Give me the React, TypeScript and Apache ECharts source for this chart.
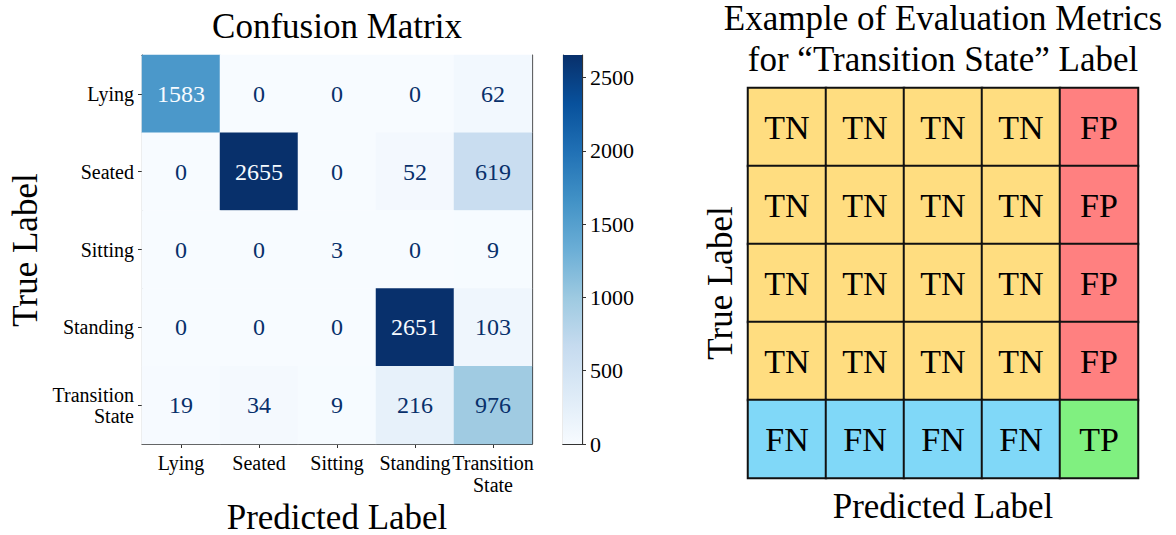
import React, { useEffect, useRef } from "react";
import * as echarts from "echarts";

const classLabels = ["Lying", "Seated", "Sitting", "Standing", "Transition\nState"];
const confusion = [
  [1583, 0, 0, 0, 62],
  [0, 2655, 0, 52, 619],
  [0, 0, 3, 0, 9],
  [0, 0, 0, 2651, 103],
  [19, 34, 9, 216, 976],
];
const colorbarMin = 0;
const colorbarMax = 2655;
const colorbarStep = 500;
const bluesStops = ["#f7fbff", "#deebf7", "#c6dbef", "#9ecae1", "#6baed6", "#4292c6", "#2171b5", "#08519c", "#08306b"];

const outcomeGrid = [
  ["TN", "TN", "TN", "TN", "FP"],
  ["TN", "TN", "TN", "TN", "FP"],
  ["TN", "TN", "TN", "TN", "FP"],
  ["TN", "TN", "TN", "TN", "FP"],
  ["FN", "FN", "FN", "FN", "TP"],
];
const outcomeCodes = ["TN", "FP", "FN", "TP"];
const outcomeColors = ["#FFDD80", "#FF8080", "#80D8F8", "#80F080"];
const outcomeCols = ["c1", "c2", "c3", "c4", "c5"];
const outcomeRows = ["r1", "r2", "r3", "r4", "r5"];

const leftTitle = "Confusion Matrix";
const rightTitle = ["Example of Evaluation Metrics", "for \u201cTransition State\u201d Label"];
const xName = "Predicted Label";
const yName = "True Label";

const FONT = "Liberation Serif";

export default function App() {
  const ref = useRef<HTMLDivElement>(null);
  useEffect(() => {
    if (!ref.current) return;
    const chart = echarts.init(ref.current, undefined, { renderer: "svg" });
    const threshold = (colorbarMax + colorbarMin) / 2;
    const cmData: any[] = [];
    confusion.forEach((row, r) =>
      row.forEach((v, c) => {
        cmData.push({
          value: [c, r, v],
          label: { color: v > threshold ? "#f7fbff" : "#08306b", fontFamily: FONT, fontSize: 24 },
        });
      })
    );
    const outData: any[] = [];
    outcomeGrid.forEach((row, r) =>
      row.forEach((code, c) => {
        outData.push({
          value: [c, r, outcomeCodes.indexOf(code)],
          label: { formatter: code, fontFamily: FONT, fontSize: 34, color: "#000" },
        });
      })
    );
    const spine = { show: true, lineStyle: { color: "#333", width: 1.2 } };
    const blackSpine = { show: true, lineStyle: { color: "#111", width: 2 } };
    const hidden = { show: false };

    const text = (t: string, x: number, y: number, size: number, rot = 0) => ({
      type: "text",
      x,
      y,
      rotation: rot,
      style: {
        text: t,
        x: 0,
        y: 0,
        fill: "#000",
        font: `${size}px "${FONT}", serif`,
        textAlign: "center",
        textVerticalAlign: "middle",
      },
      z: 100,
    });

    chart.setOption({
      animation: false,
      backgroundColor: "#fff",
      textStyle: { fontFamily: FONT },
      grid: [
        { left: 142, top: 55, width: 390, height: 389 },
        { left: 563, top: 55, width: 19, height: 389 },
        { left: 748, top: 88, width: 390, height: 390 },
      ],
      xAxis: [
        {
          gridIndex: 0,
          type: "category",
          data: classLabels,
          position: "bottom",
          axisLine: spine,
          axisTick: { show: true, alignWithLabel: true, length: 4, lineStyle: { color: "#333" } },
          axisLabel: { interval: 0, fontSize: 20, color: "#000", margin: 8, lineHeight: 22, fontFamily: FONT },
          splitLine: hidden,
        },
        { gridIndex: 0, type: "category", data: classLabels, position: "top", axisLine: spine, axisTick: hidden, axisLabel: hidden },
        { gridIndex: 1, type: "category", data: ["cb"], position: "bottom", axisLine: spine, axisTick: hidden, axisLabel: hidden },
        { gridIndex: 1, type: "category", data: ["cb"], position: "top", axisLine: spine, axisTick: hidden, axisLabel: hidden },
        { gridIndex: 2, type: "category", data: outcomeCols, position: "bottom", axisLine: blackSpine, axisTick: hidden, axisLabel: hidden },
        { gridIndex: 2, type: "category", data: outcomeCols, position: "top", axisLine: blackSpine, axisTick: hidden, axisLabel: hidden },
      ],
      yAxis: [
        {
          gridIndex: 0,
          type: "category",
          data: classLabels,
          inverse: true,
          position: "left",
          axisLine: spine,
          axisTick: { show: true, alignWithLabel: true, length: 4, lineStyle: { color: "#333" } },
          axisLabel: { interval: 0, fontSize: 20, color: "#000", margin: 8, lineHeight: 21, align: "right", fontFamily: FONT },
          splitLine: hidden,
        },
        { gridIndex: 0, type: "category", data: classLabels, inverse: true, position: "right", axisLine: spine, axisTick: hidden, axisLabel: hidden },
        {
          gridIndex: 1,
          type: "value",
          min: colorbarMin,
          max: colorbarMax,
          interval: colorbarStep,
          position: "right",
          axisLine: spine,
          axisTick: { show: true, length: 4, lineStyle: { color: "#333" } },
          axisLabel: {
            fontSize: 22,
            color: "#000",
            margin: 8,
            fontFamily: FONT,
            showMaxLabel: false,
            formatter: (v: number) => String(v),
          },
          splitLine: hidden,
        },
        { gridIndex: 1, type: "value", min: colorbarMin, max: colorbarMax, position: "left", axisLine: spine, axisTick: hidden, axisLabel: hidden, splitLine: hidden },
        { gridIndex: 2, type: "category", data: outcomeRows, inverse: true, position: "left", axisLine: blackSpine, axisTick: hidden, axisLabel: hidden },
        { gridIndex: 2, type: "category", data: outcomeRows, inverse: true, position: "right", axisLine: blackSpine, axisTick: hidden, axisLabel: hidden },
      ],
      visualMap: [
        {
          show: false,
          type: "continuous",
          seriesIndex: 0,
          dimension: 2,
          min: colorbarMin,
          max: colorbarMax,
          inRange: { color: bluesStops },
        },
        {
          show: false,
          type: "piecewise",
          seriesIndex: 2,
          dimension: 2,
          pieces: outcomeCodes.map((_, i) => ({ value: i, color: outcomeColors[i] })),
        },
      ],
      series: [
        {
          type: "heatmap",
          xAxisIndex: 0,
          yAxisIndex: 0,
          data: cmData,
          label: { show: true, fontSize: 24, fontFamily: FONT, formatter: (p: any) => String(p.value[2]) },
          itemStyle: { borderWidth: 0 },
          emphasis: { disabled: true },
        },
        {
          type: "bar",
          xAxisIndex: 2,
          yAxisIndex: 2,
          data: [colorbarMax],
          barWidth: "100%",
          itemStyle: {
            color: new echarts.graphic.LinearGradient(
              0,
              1,
              0,
              0,
              bluesStops.map((c, i) => ({ offset: i / (bluesStops.length - 1), color: c }))
            ),
          },
          silent: true,
        },
        {
          type: "heatmap",
          xAxisIndex: 4,
          yAxisIndex: 4,
          data: outData,
          label: { show: true, fontSize: 34, color: "#000", fontFamily: FONT },
          itemStyle: { borderColor: "#111", borderWidth: 2 },
          emphasis: { disabled: true },
        },
      ],
      graphic: [
        text(leftTitle, 337, 26, 35),
        text(xName, 337, 517, 35),
        text(yName, 25, 250, 35, Math.PI / 2),
        text(rightTitle[0], 943, 18, 35),
        text(rightTitle[1], 943, 59, 35),
        text(xName, 943, 506, 35),
        text(yName, 720, 283, 35, Math.PI / 2),
      ],
    });
    return () => chart.dispose();
  }, []);
  return <div ref={ref} style={{ position: "fixed", left: 0, top: 0, width: 1176, height: 535 }} />;
}
